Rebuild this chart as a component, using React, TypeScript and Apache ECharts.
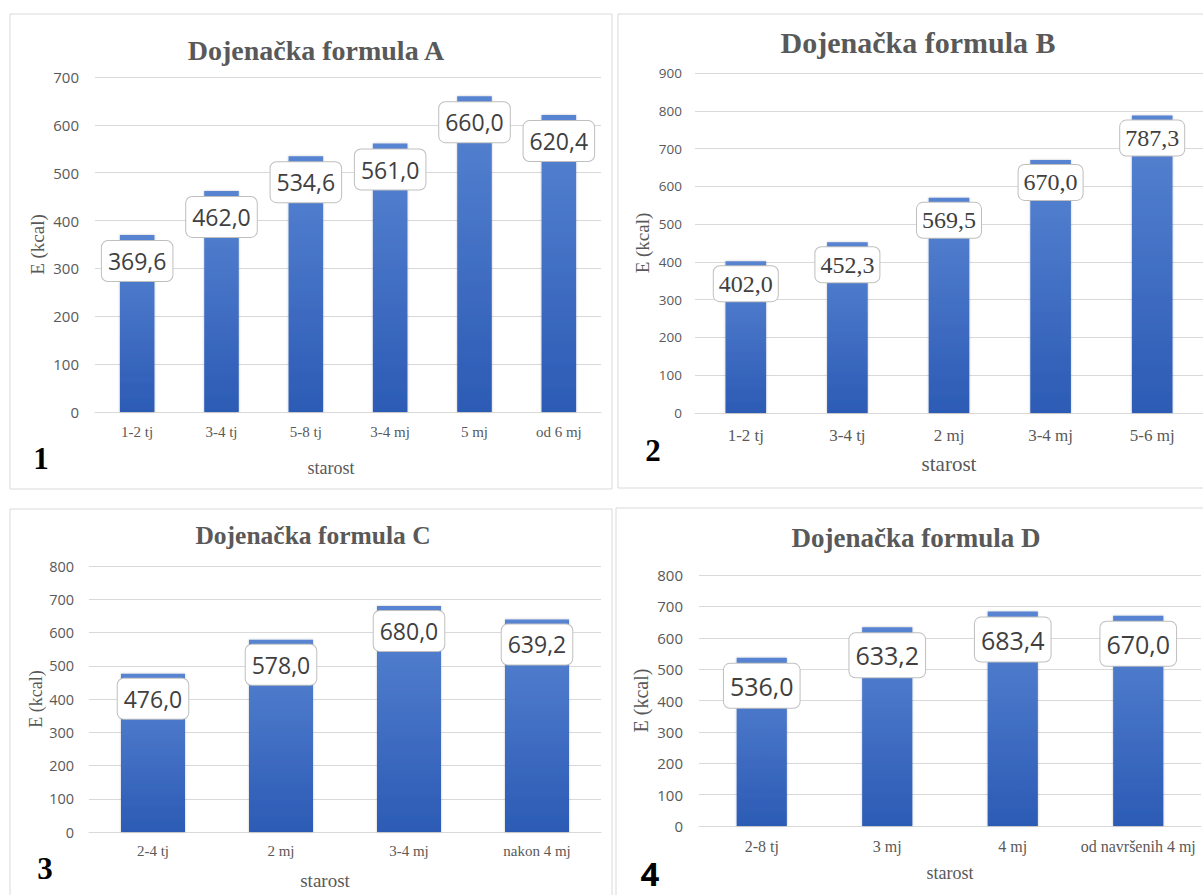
import React, { useEffect, useRef } from "react";
import * as echarts from "echarts";

// ---- data ----
const catsA = ["1-2 tj", "3-4 tj", "5-8 tj", "3-4 mj", "5 mj", "od 6 mj"];
const valsA = [369.6, 462.0, 534.6, 561.0, 660.0, 620.4];
const catsB = ["1-2 tj", "3-4 tj", "2 mj", "3-4 mj", "5-6 mj"];
const valsB = [402.0, 452.3, 569.5, 670.0, 787.3];
const catsC = ["2-4 tj", "2 mj", "3-4 mj", "nakon 4 mj"];
const valsC = [476.0, 578.0, 680.0, 639.2];
const catsD = ["2-8 tj", "3 mj", "4 mj", "od navršenih 4 mj"];
const valsD = [536.0, 633.2, 683.4, 670.0];
const titles = ["Dojenačka formula A", "Dojenačka formula B", "Dojenačka formula C", "Dojenačka formula D"];
const yMaxes = [700, 900, 800, 800];
const panelNumbers = ["1", "2", "3", "4"];
const xName = "starost";
const yName = "E (kcal)";

const SANS = "'Open Sans', 'Liberation Sans', sans-serif";
const SERIF = "'Liberation Serif', 'Times New Roman', serif";
const GRAY = "#595959";

const cats = [catsA, catsB, catsC, catsD];
const vals = [valsA, valsB, valsC, valsD];

// ---- layout (pixels) ----
const layout = [
  {
    grid: { left: 95, top: 77, width: 506, height: 335 },
    box: { x: 10, y: 14, w: 602, h: 475 },
    title: { x: 316, y: 50, size: 28 },
    num: { x: 41, y: 458, font: "bold 31px " + SERIF },
    barWidth: "41%",
    yLab: { size: 15, margin: 16 },
    xLab: { size: 15, margin: 12 },
    xNameGap: 47, xNameSize: 18, xNamePad: [0, 34, 0, 0],
    yNameGap: 48, yNameSize: 19,
    label: { font: SANS, size: 23, lh: 28, pad: [6, 6], dist: 6 },
  },
  {
    grid: { left: 695, top: 73, width: 508, height: 340 },
    box: { x: 618, y: 14, w: 620, h: 474 },
    title: { x: 918, y: 42, size: 30 },
    num: { x: 653, y: 450, font: "bold 31px " + SERIF },
    barWidth: "40%",
    yLab: { size: 13.5, margin: 13 },
    xLab: { size: 17, margin: 14 },
    xNameGap: 40, xNameSize: 21, xNamePad: [0, 0, 0, 0],
    yNameGap: 43, yNameSize: 19,
    label: { font: SERIF, size: 24, lh: 27, pad: [4, 5], dist: 5 },
  },
  {
    grid: { left: 89, top: 566, width: 512, height: 266 },
    box: { x: 10, y: 509, w: 602, h: 420 },
    title: { x: 313, y: 535, size: 25.5 },
    num: { x: 45, y: 868, font: "bold 31px " + SERIF },
    barWidth: "50%",
    yLab: { size: 14.5, margin: 15 },
    xLab: { size: 15, margin: 11 },
    xNameGap: 39, xNameSize: 19, xNamePad: [0, 40, 0, 0],
    yNameGap: 42, yNameSize: 18,
    label: { font: SANS, size: 23, lh: 28, pad: [6, 6], dist: 5 },
  },
  {
    grid: { left: 699, top: 575, width: 502, height: 251 },
    box: { x: 616, y: 508, w: 620, h: 420 },
    title: { x: 916, y: 538, size: 27 },
    num: { x: 650, y: 873, font: "bold 33px " + SANS },
    barWidth: "40%",
    yLab: { size: 15, margin: 16 },
    xLab: { size: 16, margin: 12 },
    xNameGap: 38, xNameSize: 18, xNamePad: [0, 0, 0, 0],
    yNameGap: 48, yNameSize: 20,
    label: { font: SANS, size: 25, lh: 30, pad: [7, 6], dist: 6 },
  },
];

const fmt = (v: number) => v.toFixed(1).replace(".", ",");

export default function App() {
  const ref = useRef<HTMLDivElement>(null);
  useEffect(() => {
    if (!ref.current) return;
    const chart = echarts.init(ref.current, undefined, { renderer: "svg" });
    const graphic: any[] = [];
    layout.forEach((p, i) => {
      graphic.push({
        type: "rect",
        shape: { x: p.box.x, y: p.box.y, width: p.box.w, height: p.box.h },
        style: { fill: "none", stroke: "#d9d9d9", lineWidth: 1 },
        silent: true,
      });
      graphic.push({
        type: "text",
        x: p.title.x,
        y: p.title.y,
        style: {
          text: titles[i],
          font: `bold ${p.title.size}px ${SERIF}`,
          fill: GRAY,
          textAlign: "center",
          textVerticalAlign: "middle",
        },
      });
      graphic.push({
        type: "text",
        x: p.num.x,
        y: p.num.y,
        style: {
          text: panelNumbers[i],
          font: p.num.font,
          fill: "#000000",
          textAlign: "center",
          textVerticalAlign: "middle",
        },
      });
    });

    const option: any = {
      animation: false,
      backgroundColor: "#ffffff",
      grid: layout.map((p) => ({
        ...p.grid,
        containLabel: false,
        outerBoundsMode: "none",
      })),
      xAxis: layout.map((p, i) => ({
        type: "category",
        gridIndex: i,
        data: cats[i],
        axisLine: { show: true, lineStyle: { color: "#d9d9d9", width: 1 } },
        axisTick: { show: false },
        axisLabel: {
          interval: 0,
          color: GRAY,
          fontFamily: SERIF,
          fontSize: p.xLab.size,
          margin: p.xLab.margin,
        },
        name: xName,
        nameLocation: "middle",
        nameGap: p.xNameGap,
        nameTextStyle: {
          color: GRAY,
          fontFamily: SERIF,
          fontSize: p.xNameSize,
          padding: p.xNamePad,
        },
      })),
      yAxis: layout.map((p, i) => ({
        type: "value",
        gridIndex: i,
        min: 0,
        max: yMaxes[i],
        interval: 100,
        axisLine: { show: false },
        axisTick: { show: false },
        splitLine: { show: true, lineStyle: { color: "#d9d9d9", width: 1 } },
        axisLabel: {
          color: GRAY,
          fontFamily: SANS,
          fontSize: p.yLab.size,
          margin: p.yLab.margin,
        },
        name: yName,
        nameLocation: "middle",
        nameRotate: 90,
        nameGap: p.yNameGap,
        nameTextStyle: {
          color: GRAY,
          fontFamily: SERIF,
          fontSize: p.yNameSize,
        },
      })),
      series: layout.map((p, i) => ({
        type: "bar",
        xAxisIndex: i,
        yAxisIndex: i,
        data: vals[i],
        barWidth: p.barWidth,
        itemStyle: {
          color: new echarts.graphic.LinearGradient(0, 0, 0, 1, [
            { offset: 0, color: "#5884d2" },
            { offset: 1, color: "#2c5bb5" },
          ]),
          shadowColor: "rgba(0,0,0,0.25)",
          shadowBlur: 2,
        },
        label: {
          show: true,
          position: "insideTop",
          distance: p.label.dist,
          formatter: (d: any) => fmt(d.value),
          fontFamily: p.label.font,
          fontSize: p.label.size,
          lineHeight: p.label.lh,
          color: "#404040",
          backgroundColor: "#ffffff",
          borderColor: "#bfbfbf",
          borderWidth: 1,
          borderRadius: 6,
          padding: p.label.pad,
        },
      })),
      graphic,
    };
    chart.setOption(option);
    return () => chart.dispose();
  }, []);
  return (
    <div
      ref={ref}
      style={{ position: "fixed", left: 0, top: 0, width: 1203, height: 895, background: "#fff" }}
    />
  );
}
